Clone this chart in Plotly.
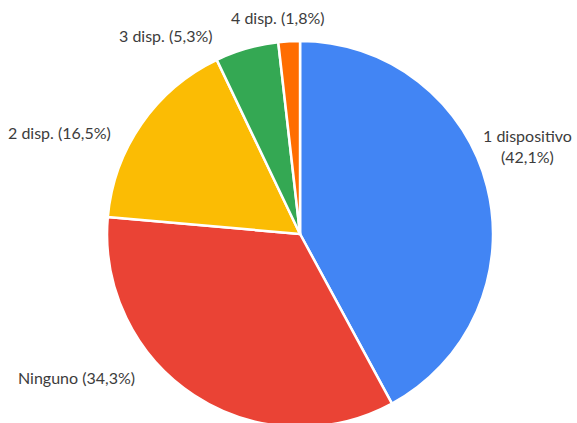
import plotly.graph_objects as go

categories = ["1 dispositivo", "Ninguno", "2 disp.", "3 disp.", "4 disp."]
values = [42.1, 34.3, 16.5, 5.3, 1.8]
colors = ["#4285F4", "#EA4335", "#FBBC04", "#34A853", "#FF6D01"]

W, H = 577, 440

# label anchor positions (pixels from top-left), style/layout only
label_pos = {
    "1 dispositivo": (527, 146),
    "Ninguno": (76, 377),
    "2 disp.": (59, 132),
    "3 disp.": (166, 36),
    "4 disp.": (278, 18),
}

def fmt(v):
    return f"{v:.1f}".replace(".", ",") + "%"

fig = go.Figure(
    go.Pie(
        labels=categories,
        values=values,
        sort=False,
        direction="clockwise",
        rotation=0,
        marker=dict(colors=colors, line=dict(color="white", width=2.5)),
        textinfo="none",
        hoverinfo="label+percent",
        domain=dict(x=[0.17, 0.87], y=[0.0296, 0.9068]),
    )
)

annotations = []
for cat, v in zip(categories, values):
    if cat == "1 dispositivo":
        text = f"{cat}<br>({fmt(v)})"
    else:
        text = f"{cat} ({fmt(v)})"
    px, py = label_pos[cat]
    annotations.append(dict(
        text=text, x=px / W, y=1 - py / H, xref="paper", yref="paper",
        showarrow=False, xanchor="center", yanchor="middle", align="center",
        font=dict(family="Lato", size=16, color="#3c3c3c"),
    ))

fig.update_layout(
    width=W, height=H,
    margin=dict(l=0, r=0, t=0, b=0),
    paper_bgcolor="white", plot_bgcolor="white",
    showlegend=False,
    annotations=annotations,
)

fig.write_html(
    "out.html",
    config={"displayModeBar": False},
    post_script="document.body.style.margin='0';document.body.style.overflow='hidden';",
)
